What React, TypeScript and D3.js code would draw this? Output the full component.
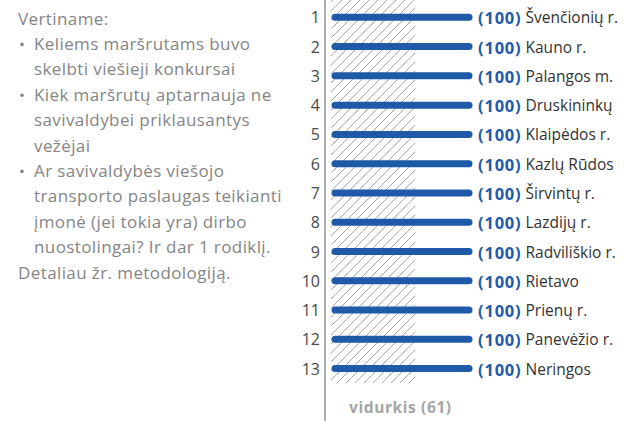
import React from "react";
import * as d3 from "d3";

const ranks = [1, 2, 3, 4, 5, 6, 7, 8, 9, 10, 11, 12, 13];
const names = [
  "Švenčionių r.",
  "Kauno r.",
  "Palangos m.",
  "Druskininkų",
  "Klaipėdos r.",
  "Kazlų Rūdos",
  "Širvintų r.",
  "Lazdijų r.",
  "Radviliškio r.",
  "Rietavo",
  "Prienų r.",
  "Panevėžio r.",
  "Neringos",
];
const values = [100, 100, 100, 100, 100, 100, 100, 100, 100, 100, 100, 100, 100];
const average = 61;
const averageLabel = "vidurkis";

const noteLines: { text: string; bullet: boolean; indent: boolean }[] = [
  { text: "Vertiname:", bullet: false, indent: false },
  { text: "Keliems maršrutams buvo", bullet: true, indent: true },
  { text: "skelbti viešieji konkursai", bullet: false, indent: true },
  { text: "Kiek maršrutų aptarnauja ne", bullet: true, indent: true },
  { text: "savivaldybei priklausantys", bullet: false, indent: true },
  { text: "vežėjai", bullet: false, indent: true },
  { text: "Ar savivaldybės viešojo", bullet: true, indent: true },
  { text: "transporto paslaugas teikianti", bullet: false, indent: true },
  { text: "įmonė (jei tokia yra) dirbo", bullet: false, indent: true },
  { text: "nuostolingai? Ir dar 1 rodiklį.", bullet: false, indent: true },
  { text: "Detaliau žr. metodologiją.", bullet: false, indent: false },
];

const W = 624;
const H = 421;
const FONT = "'Open Sans', Roboto, 'DejaVu Sans', sans-serif";
const BLUE = "#1f5aa8";

export default function App() {
  const x = d3.scaleLinear().domain([0, 100]).range([331, 469]);
  const y = d3.scalePoint<number>().domain(ranks).range([17.3, 368.6]);
  const hatchBottom = 383;
  const axisX = 325;

  return (
    <div style={{ position: "absolute", left: 0, top: 0 }}>
      <svg width={W} height={H} style={{ display: "block", background: "#fff" }}>
        <defs>
          <pattern id="hatch" patternUnits="userSpaceOnUse" width={9} height={9}>
            <path d="M-2,11 L11,-2 M-2,2 L2,-2 M7,11 L11,7" stroke="#aaaaaa" strokeWidth={1} />
          </pattern>
        </defs>

        {/* notes */}
        <g fontFamily={FONT} fontSize={17} letterSpacing={0.4} fill="#858585">
          {noteLines.map((l, i) => {
            const yy = 18 + i * 25.4;
            return (
              <g key={i}>
                {l.bullet && (
                  <circle cx={22} cy={yy + 1} r={1.8} fill="#858585" />
                )}
                <text x={l.indent ? 34 : 18} y={yy} dominantBaseline="central">
                  {l.text}
                </text>
              </g>
            );
          })}
        </g>

        {/* average hatch */}
        <rect
          x={x(0)}
          y={0}
          width={x(average) - x(0)}
          height={hatchBottom}
          fill="url(#hatch)"
        />

        {/* axis */}
        <line x1={axisX} x2={axisX} y1={0} y2={H} stroke="#9a9a9a" strokeWidth={1.6} />

        {/* bars */}
        {ranks.map((r, i) => (
          <line
            key={r}
            x1={x(0) + 4}
            x2={x(values[i])}
            y1={y(r)}
            y2={y(r)}
            stroke={BLUE}
            strokeWidth={7}
            strokeLinecap="round"
          />
        ))}

        {/* rank labels */}
        <g fontFamily={FONT} fontSize={16} fill="#4a4a4a">
          {ranks.map((r) => (
            <text key={r} x={320} y={y(r)} textAnchor="end" dominantBaseline="central">
              {r}
            </text>
          ))}
        </g>

        {/* value + name labels */}
        <g fontFamily={FONT} fontSize={15.5}>
          {ranks.map((r, i) => (
            <text key={r} x={x(values[i]) + 9} y={y(r)} dominantBaseline="central">
              <tspan fill={BLUE} fontWeight="bold" fontSize={16.5} letterSpacing={0.8}>
                ({values[i]})
              </tspan>
              <tspan fill="#333" dx={4} letterSpacing={0}>{names[i]}</tspan>
            </text>
          ))}
        </g>

        {/* average label */}
        <text
          x={349}
          y={406.5}
          fontFamily={FONT}
          fontSize={15.5}
          letterSpacing={0.6}
          fontWeight="bold"
          fill="#a5a5a5"
          dominantBaseline="central"
        >
          {averageLabel} ({average})
        </text>
      </svg>
    </div>
  );
}
